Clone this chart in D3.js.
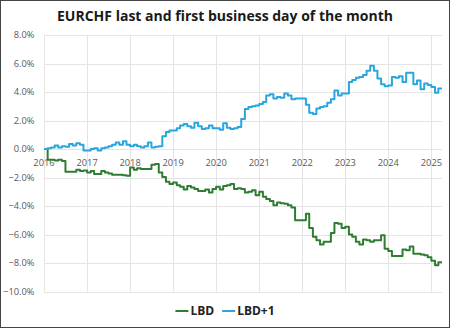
<!DOCTYPE html>
<html>
<head>
<meta charset="utf-8">
<script src="https://cdn.jsdelivr.net/npm/d3@7"></script>
<style>
  html, body { margin: 0; padding: 0; background: #fff; }
  svg { display: block; font-family: "Open Sans", sans-serif; }
</style>
</head>
<body>
<svg id="chart" width="450" height="328"></svg>
<script>
// monthly cumulative return (%), Jan 2016 .. Mar 2025
const startMonth = new Date(2016, 0, 1);
const endMonth = new Date(2025, 3, 1);

const lbd = [
  0, -0.75, -0.75, -0.8, -0.75, -0.85, -1.6, -1.6, -1.6, -1.45, -1.55, -1.5,
  -1.65, -1.55, -1.75, -1.75, -1.55, -1.65, -1.72, -1.8, -1.8, -1.8, -1.85, -1.88,
  -1.3, -1.45, -1.35, -1.4, -1.4, -1.4, -1.1, -1.05, -1.65, -1.97, -2.3, -2.45,
  -2.35, -2.55, -2.65, -2.85, -2.6, -2.7, -2.8, -2.95, -2.95, -2.85, -3.05, -2.8,
  -2.65, -2.85, -2.6, -2.55, -2.45, -2.8, -2.75, -2.8, -3.05, -3.0, -2.9, -3.25,
  -3.0, -3.35, -3.5, -3.65, -3.95, -3.75, -3.8, -3.85, -3.95, -4.1, -5.0, -5.0,
  -5.0, -4.55, -5.55, -6.15, -6.4, -6.7, -6.5, -6.5, -5.9, -5.2, -5.25, -5.55,
  -5.45, -6.0, -6.15, -6.5, -6.7, -6.35, -6.4, -6.5, -6.4, -6.4, -6.05, -7.0,
  -7.15, -7.5, -7.5, -7.5, -7.05, -7.1, -6.85, -7.35, -7.35, -7.4, -7.45, -7.6,
  -7.85, -8.15, -7.95
];

const lbdPlus1 = [
  0, 0.05, 0.1, 0.25, 0.1, 0.2, 0.15, 0.35, 0.25, 0.4, 0.3, -0.1,
  -0.1, 0.0, 0.05, -0.1, 0.05, 0.1, 0.2, 0.3, 0.45, 0.3, 0.55, 0.3,
  0.2, 0.3, 0.2, 0.1, 0.2, 0.45, 0.1, 0.15, 0.2, 0.9, 1.2, 1.3,
  1.3, 1.45, 1.65, 1.75, 1.6, 1.5, 1.85, 1.6, 1.4, 1.45, 1.65, 1.45,
  1.45, 1.35, 1.8, 1.5, 1.4, 1.45, 1.55, 2.1, 2.8, 2.95, 3.0, 3.05,
  3.15, 3.3, 3.75, 3.85, 3.55, 3.65, 3.6, 3.9, 3.75, 3.5, 3.55, 3.55,
  3.55, 3.1, 2.55, 2.45, 2.85, 2.95, 3.0, 3.25, 3.5, 4.1, 3.75, 3.9,
  3.9, 4.7, 4.85, 5.0, 5.05, 5.2, 5.5, 5.85, 5.5, 4.95, 4.55, 4.4,
  4.45, 5.05, 5.0, 5.1, 4.7, 5.35, 5.35, 4.55, 4.8, 4.2, 4.6, 4.5,
  4.35, 3.95, 4.25
];

const seriesNames = ["LBD", "LBD+1"];
const seriesColors = ["#2e7d32", "#29a6dd"];
const yTicks = [-10, -8, -6, -4, -2, 0, 2, 4, 6, 8];

const months = d3.timeMonths(startMonth, endMonth);

const svg = d3.select("#chart");
const W = 450, H = 328;
const plot = { left: 44, right: 442, top: 35, bottom: 291.5 };

// chart border
svg.append("rect")
  .attr("x", 0.5).attr("y", 0.5)
  .attr("width", W - 1).attr("height", H - 1)
  .attr("fill", "#fff")
  .attr("stroke", "#444");

const x = d3.scaleTime().domain([startMonth, endMonth]).range([plot.left, plot.right]);
const y = d3.scaleLinear().domain([-10, 8]).range([plot.bottom, plot.top]);

// title
svg.append("text")
  .attr("x", W / 2).attr("y", 20.5)
  .attr("text-anchor", "middle")
  .attr("font-size", 14)
  .attr("font-weight", "bold")
  .attr("fill", "#1a1a1a")
  .text("EURCHF last and first business day of the month");

// gridlines
const grid = svg.append("g");
grid.selectAll("line.h")
  .data(yTicks)
  .join("line")
  .attr("x1", plot.left).attr("x2", plot.right)
  .attr("y1", d => Math.round(y(d)) + 0.5).attr("y2", d => Math.round(y(d)) + 0.5)
  .attr("stroke", "#e4e4e4");

const years = d3.timeYears(startMonth, endMonth);
grid.selectAll("line.v")
  .data(years)
  .join("line")
  .attr("x1", d => Math.round(x(d)) + 0.5).attr("x2", d => Math.round(x(d)) + 0.5)
  .attr("y1", plot.top).attr("y2", plot.bottom)
  .attr("stroke", "#e4e4e4");

// y axis labels
svg.append("g")
  .selectAll("text")
  .data(yTicks)
  .join("text")
  .attr("x", 34.5)
  .attr("y", d => y(d))
  .attr("dy", "0.35em")
  .attr("text-anchor", "end")
  .attr("font-size", 9.3)
  .attr("fill", "#595959")
  .text(d => d3.format(".1f")(d) + "%");

// x axis labels sit just under the zero line
svg.append("g")
  .selectAll("text")
  .data(years)
  .join("text")
  .attr("x", d => x(d))
  .attr("y", y(0) + 17)
  .attr("text-anchor", "middle")
  .attr("font-size", 9.3)
  .attr("fill", "#595959")
  .text(d => d3.timeFormat("%Y")(d));

// step lines: each month's value holds until the next month starts
const line = d3.line()
  .curve(d3.curveStepAfter)
  .x(d => x(d.date))
  .y(d => y(d.value));

const toPoints = vals => {
  const pts = vals.map((v, i) => ({ date: months[i], value: v }));
  pts.push({ date: endMonth, value: vals[vals.length - 1] });
  return pts;
};

[lbd, lbdPlus1].forEach((vals, i) => {
  svg.append("path")
    .attr("d", line(toPoints(vals)))
    .attr("fill", "none")
    .attr("stroke", seriesColors[i])
    .attr("stroke-width", 2)
    .attr("stroke-linejoin", "round");
});

// legend
const legend = svg.append("g").attr("transform", "translate(0,311)");
let cx = 0;
const items = seriesNames.map((name, i) => {
  const g = legend.append("g");
  g.append("line")
    .attr("x1", 0).attr("x2", 13)
    .attr("stroke", seriesColors[i])
    .attr("stroke-width", 2);
  const t = g.append("text")
    .attr("x", 15).attr("dy", "0.35em")
    .attr("font-size", 12)
    .attr("font-weight", "bold")
    .attr("fill", "#222")
    .text(name);
  const w = 15 + t.node().getComputedTextLength();
  g.attr("transform", `translate(${cx},0)`);
  cx += w + 8;
  return g;
});
const legendWidth = cx - 8;
legend.attr("transform", `translate(${(W - legendWidth) / 2},311)`);
</script>
</body>
</html>
